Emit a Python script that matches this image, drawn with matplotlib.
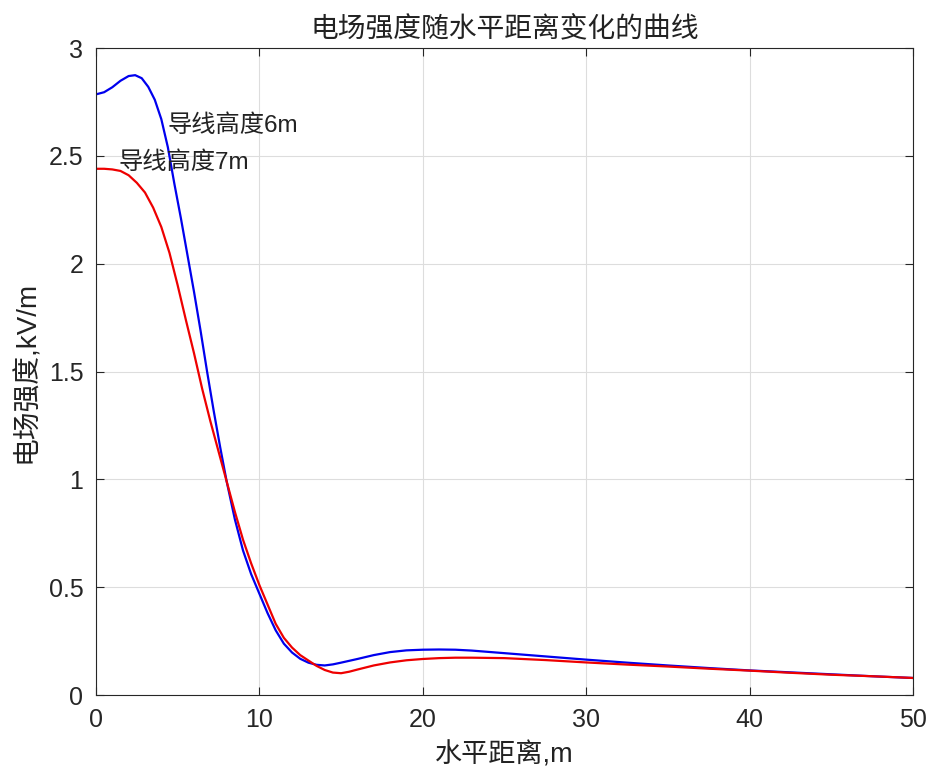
import matplotlib
matplotlib.use("Agg")
import matplotlib.pyplot as plt

plt.rcParams['font.family'] = ['Liberation Sans', 'Noto Sans CJK SC', 'DejaVu Sans']

# 导线高度6m
x_6m = [0, 0.5, 1.0, 1.5, 2.0, 2.4, 2.8, 3.2, 3.6, 4.0, 4.4, 4.8, 5.2, 5.6,
        6.0, 6.4, 6.8, 7.2, 7.6, 8.0, 8.5, 9.0, 9.5, 10, 10.5, 11, 11.5, 12,
        12.5, 13, 13.5, 14, 14.5, 15, 16, 17, 18, 19, 20, 21, 22, 23, 24, 25,
        27.5, 30, 32.5, 35, 37.5, 40, 42.5, 45, 47.5, 50]
e_6m = [2.785, 2.795, 2.818, 2.848, 2.870, 2.874, 2.86, 2.82, 2.76, 2.67,
        2.54, 2.37, 2.21, 2.04, 1.87, 1.69, 1.50, 1.32, 1.15, 0.99, 0.815,
        0.67, 0.56, 0.47, 0.38, 0.30, 0.238, 0.197, 0.168, 0.150, 0.140,
        0.137, 0.142, 0.150, 0.167, 0.185, 0.199, 0.207, 0.210, 0.211, 0.210,
        0.206, 0.200, 0.194, 0.179, 0.164, 0.150, 0.137, 0.125, 0.114, 0.105,
        0.096, 0.087, 0.079]

# 导线高度7m
x_7m = [0, 0.5, 1.0, 1.5, 2.0, 2.5, 3.0, 3.5, 4.0, 4.5, 5.0, 5.5, 6.0, 6.5,
        7.0, 7.5, 8.0, 8.5, 9.0, 9.5, 10, 10.5, 11, 11.5, 12, 12.5, 13, 13.5,
        14, 14.5, 15, 15.5, 16, 17, 18, 19, 20, 21, 22, 23, 24, 25, 27.5, 30,
        32.5, 35, 37.5, 40, 42.5, 45, 47.5, 50]
e_7m = [2.44, 2.44, 2.437, 2.43, 2.41, 2.375, 2.33, 2.26, 2.17, 2.05, 1.90,
        1.74, 1.585, 1.42, 1.27, 1.13, 0.99, 0.85, 0.72, 0.61, 0.51, 0.42,
        0.33, 0.265, 0.22, 0.185, 0.16, 0.135, 0.116, 0.104, 0.101, 0.108,
        0.118, 0.137, 0.151, 0.161, 0.167, 0.171, 0.173, 0.173, 0.172, 0.171,
        0.162, 0.151, 0.141, 0.132, 0.122, 0.113, 0.103, 0.094, 0.087, 0.079]

xticks = [0, 10, 20, 30, 40, 50]
yticks = [0, 0.5, 1, 1.5, 2, 2.5, 3]
ytick_labels = ['0', '0.5', '1', '1.5', '2', '2.5', '3']

fig = plt.figure(figsize=(9.28, 7.73), dpi=100)
ax = fig.add_axes([0.1034, 0.1009, 0.8804, 0.837])

ax.plot(x_6m, e_6m, color='#0000ee', linewidth=1.6)
ax.plot(x_7m, e_7m, color='#ee0000', linewidth=1.6)

ax.text(4.4, 2.64, '导线高度6m', fontsize=17.5, va='center', ha='left', color='#222222')
ax.text(1.35, 2.47, '导线高度7m', fontsize=17.5, va='center', ha='left', color='#222222')

ax.set_xlim(0, 50)
ax.set_ylim(0, 3)
ax.set_xticks(xticks)
ax.set_yticks(yticks)
ax.set_yticklabels(ytick_labels)
ax.grid(True, color='#dddddd', linewidth=0.8)
ax.set_axisbelow(True)
ax.tick_params(direction='in', top=True, right=True, length=6, width=0.8,
               labelsize=18, colors='#262626', pad=9)
for s in ax.spines.values():
    s.set_color('#262626')
    s.set_linewidth(0.8)

ax.set_title('电场强度随水平距离变化的曲线', fontsize=20, color='#222222', pad=8)
ax.set_xlabel('水平距离,m', fontsize=19.5, color='#222222', labelpad=8)
ax.set_ylabel('电场强度,kV/m', fontsize=20, color='#222222', labelpad=6)

fig.savefig('out.png', dpi=100)
